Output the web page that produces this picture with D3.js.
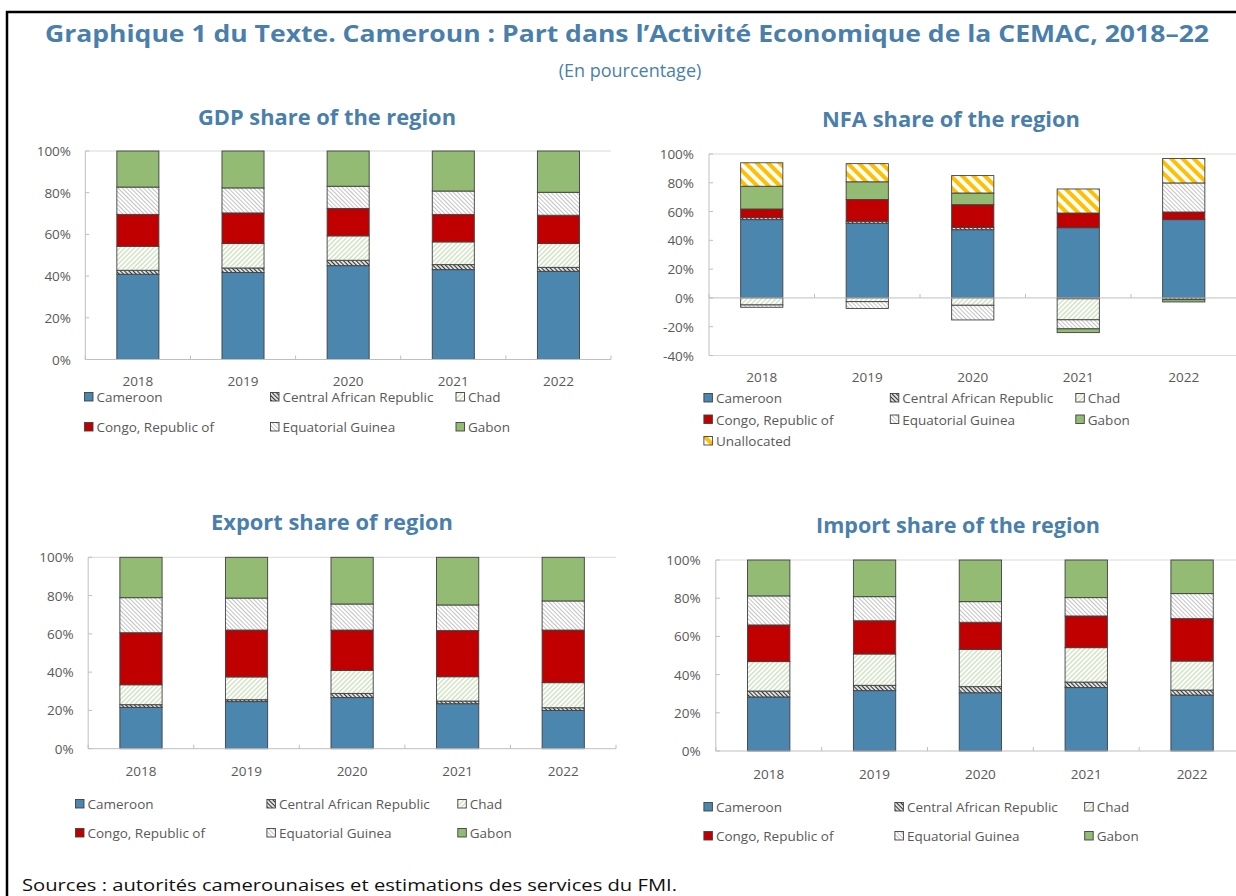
<!DOCTYPE html>
<html>
<head>
<meta charset="utf-8">
<script src="https://cdn.jsdelivr.net/npm/d3@7"></script>
<style>
  body { margin: 0; background: #fff; }
  svg { display: block; font-family: 'Open Sans', sans-serif; }
</style>
</head>
<body>
<div id="chart"></div>
<script>
'use strict';

var years = ['2018', '2019', '2020', '2021', '2022'];
var countries = ['Cameroon', 'Central African Republic', 'Chad', 'Congo, Republic of', 'Equatorial Guinea', 'Gabon'];
var nfaSeries = countries.concat(['Unallocated']);
var shareTicks = [0, 20, 40, 60, 80, 100];
var nfaTicks = [-40, -20, 0, 20, 40, 60, 80, 100];

// shares in percent, one row per series (same order as countries / nfaSeries)
var gdpShare = [
  [40.9, 41.7, 45.0, 43.1, 42.3],
  [1.9, 2.2, 2.6, 2.4, 1.9],
  [11.5, 11.7, 11.7, 10.9, 11.4],
  [15.3, 14.7, 13.1, 13.2, 13.6],
  [13.1, 12.0, 10.7, 11.2, 11.0],
  [17.3, 17.7, 16.9, 19.2, 19.8]
];
var nfaShare = [
  [54.4, 51.9, 47.4, 48.8, 54.4],
  [1.4, 1.4, 1.6, -0.6, -1.2],
  [-4.9, -2.6, -5.1, -14.6, 0],
  [6.0, 15.1, 15.8, 10.2, 5.3],
  [-1.6, -4.7, -10.2, -6.3, 20.2],
  [15.8, 12.3, 8.1, -2.6, -1.6],
  [16.3, 12.6, 12.1, 16.7, 17.0]
];
var exportShare = [
  [21.6, 24.6, 26.7, 23.5, 20.0],
  [1.4, 1.0, 2.2, 1.4, 1.4],
  [10.4, 11.9, 12.0, 12.7, 13.1],
  [27.2, 24.5, 21.1, 24.1, 27.5],
  [18.3, 16.7, 13.6, 13.4, 15.2],
  [21.1, 21.3, 24.4, 24.9, 22.8]
];
var importShare = [
  [28.3, 31.6, 30.5, 33.2, 29.3],
  [3.1, 2.8, 3.2, 2.9, 2.6],
  [15.4, 16.4, 19.5, 18.0, 15.2],
  [19.2, 17.4, 14.2, 16.6, 22.2],
  [15.2, 12.6, 10.8, 9.6, 13.1],
  [18.8, 19.2, 21.8, 19.7, 17.6]
];

var blue = '#4a7fac';
var axisGray = '#bfbfbf';
var textGray = '#595959';

var fills = {
  'Cameroon': '#4a86ae',
  'Central African Republic': 'url(#pat-car)',
  'Chad': 'url(#pat-chad)',
  'Congo, Republic of': '#c00000',
  'Equatorial Guinea': 'url(#pat-eqg)',
  'Gabon': '#93bb74',
  'Unallocated': 'url(#pat-unal)'
};

var svg = d3.select('#chart').append('svg')
  .attr('width', 1236)
  .attr('height', 896);

var defs = svg.append('defs');

function addPattern(id, color, size, lineWidth, angle) {
  var pat = defs.append('pattern')
    .attr('id', id)
    .attr('patternUnits', 'userSpaceOnUse')
    .attr('width', size)
    .attr('height', size)
    .attr('patternTransform', 'rotate(' + angle + ')');
  pat.append('rect')
    .attr('width', size)
    .attr('height', size)
    .attr('fill', '#fff');
  pat.append('line')
    .attr('x1', size / 2).attr('x2', size / 2)
    .attr('y1', 0).attr('y2', size)
    .attr('stroke', color)
    .attr('stroke-width', lineWidth);
}

addPattern('pat-car', '#333', 3, 1.3, -45);
addPattern('pat-chad', '#b3d19b', 3.4, 0.9, 45);
addPattern('pat-eqg', '#b4b4b4', 3, 0.8, -45);
addPattern('pat-unal', '#ffc000', 8, 4, -45);

// frame
svg.append('path')
  .attr('d', 'M7,896V12H1236')
  .attr('fill', 'none')
  .attr('stroke', '#000')
  .attr('stroke-width', 2.5);

svg.append('text')
  .attr('x', 627)
  .attr('y', 33)
  .attr('text-anchor', 'middle')
  .attr('dominant-baseline', 'central')
  .attr('textLength', 1164)
  .attr('lengthAdjust', 'spacingAndGlyphs')
  .style('font-size', '23.5px')
  .style('font-weight', 'bold')
  .style('fill', blue)
  .text('Graphique 1 du Texte. Cameroun : Part dans l\u2019Activit\u00e9 Economique de la CEMAC, 2018\u201322');

svg.append('text')
  .attr('x', 630)
  .attr('y', 70)
  .attr('text-anchor', 'middle')
  .attr('dominant-baseline', 'central')
  .style('font-size', '18px')
  .style('fill', blue)
  .text('(En pourcentage)');

svg.append('text')
  .attr('x', 22)
  .attr('y', 884)
  .attr('dominant-baseline', 'central')
  .attr('textLength', 655)
  .attr('lengthAdjust', 'spacingAndGlyphs')
  .style('font-size', '17px')
  .style('fill', '#111')
  .text('Sources : autorit\u00e9s camerounaises et estimations des services du FMI.');

var panels = [
  {title: 'GDP share of the region', titleX: 327, titleY: 117, titleLen: 258,
   series: countries, values: gdpShare, ticks: shareTicks,
   x0: 85.3, x1: 611, yTop: 151, yBottom: 359.5, labelX: 71, xLabelY: 381,
   legendX: [84, 270, 455.5], legendY: [397, 427]},
  {title: 'NFA share of the region', titleX: 951, titleY: 119, titleLen: 258,
   series: nfaSeries, values: nfaShare, ticks: nfaTicks,
   x0: 709, x1: 1236.5, yTop: 154, yBottom: 355.5, labelX: 694, xLabelY: 377,
   legendX: [703.4, 889.8, 1075.3], legendY: [398, 419.5, 441]},
  {title: 'Export share of region', titleX: 332, titleY: 522, titleLen: 242,
   series: countries, values: exportShare, ticks: shareTicks,
   x0: 88.2, x1: 616, yTop: 557.3, yBottom: 748.7, labelX: 73.6, xLabelY: 771,
   legendX: [75, 266.4, 457.3], legendY: [804, 833]},
  {title: 'Import share of the region', titleX: 958, titleY: 525, titleLen: 284,
   series: countries, values: importShare, ticks: shareTicks,
   x0: 715.8, x1: 1245, yTop: 560, yBottom: 751, labelX: 700.7, xLabelY: 774,
   legendX: [703.4, 894.4, 1084.2], legendY: [807, 836]}
];

panels.forEach(function(p) {
  var g = svg.append('g');

  var x = d3.scaleBand()
    .domain(years)
    .range([p.x0, p.x1])
    .paddingInner(0.6)
    .paddingOuter(0.3);

  var y = d3.scaleLinear()
    .domain(d3.extent(p.ticks))
    .range([p.yBottom, p.yTop]);

  var rows = years.map(function(yr, i) {
    var r = {year: yr};
    p.series.forEach(function(s, k) { r[s] = p.values[k][i]; });
    return r;
  });

  var stacked = d3.stack()
    .keys(p.series)
    .offset(d3.stackOffsetDiverging)(rows);

  g.append('text')
    .attr('x', p.titleX)
    .attr('y', p.titleY)
    .attr('text-anchor', 'middle')
    .attr('dominant-baseline', 'central')
    .attr('textLength', p.titleLen)
    .attr('lengthAdjust', 'spacingAndGlyphs')
    .style('font-size', '21px')
    .style('font-weight', 'bold')
    .style('fill', blue)
    .text(p.title);

  // plot frame
  var yMin = d3.min(p.ticks), yMax = d3.max(p.ticks);
  g.append('line')
    .attr('x1', p.x0).attr('x2', p.x1)
    .attr('y1', y(yMax)).attr('y2', y(yMax))
    .attr('stroke', '#d9d9d9');
  g.append('line')
    .attr('x1', p.x0).attr('x2', p.x0)
    .attr('y1', y(yMax)).attr('y2', y(yMin))
    .attr('stroke', axisGray);
  if (yMin < 0) {
    g.append('line')
      .attr('x1', p.x0).attr('x2', p.x1)
      .attr('y1', y(yMin)).attr('y2', y(yMin))
      .attr('stroke', '#d9d9d9');
  }

  g.selectAll('.ytick')
    .data(p.ticks)
    .enter()
    .append('line')
    .attr('x1', p.x0).attr('x2', p.x0 + 4)
    .attr('y1', function(d) { return y(d); })
    .attr('y2', function(d) { return y(d); })
    .attr('stroke', axisGray);

  g.selectAll('.ylabel')
    .data(p.ticks)
    .enter()
    .append('text')
    .attr('x', p.labelX)
    .attr('y', function(d) { return y(d); })
    .attr('text-anchor', 'end')
    .attr('dominant-baseline', 'central')
    .style('font-size', '13.5px')
    .style('fill', textGray)
    .text(function(d) { return d + '%'; });

  // bars
  stacked.forEach(function(layer) {
    g.selectAll('.bar-' + layer.index)
      .data(layer.filter(function(d) { return d[1] !== d[0]; }))
      .enter()
      .append('rect')
      .attr('x', function(d) { return x(d.data.year); })
      .attr('width', x.bandwidth())
      .attr('y', function(d) { return y(Math.max(d[0], d[1])); })
      .attr('height', function(d) { return Math.abs(y(d[0]) - y(d[1])); })
      .attr('fill', fills[layer.key])
      .attr('stroke', '#404040')
      .attr('stroke-width', 0.9);
  });

  // zero axis and category ticks
  g.append('line')
    .attr('x1', p.x0).attr('x2', p.x1)
    .attr('y1', y(0)).attr('y2', y(0))
    .attr('stroke', axisGray);

  var step = x.step();
  g.selectAll('.xtick')
    .data(d3.range(years.length + 1))
    .enter()
    .append('line')
    .attr('x1', function(i) { return p.x0 + i * step; })
    .attr('x2', function(i) { return p.x0 + i * step; })
    .attr('y1', y(0)).attr('y2', y(0) - 4)
    .attr('stroke', axisGray);

  g.selectAll('.xlabel')
    .data(years)
    .enter()
    .append('text')
    .attr('x', function(d) { return x(d) + x.bandwidth() / 2; })
    .attr('y', p.xLabelY)
    .attr('text-anchor', 'middle')
    .attr('dominant-baseline', 'central')
    .style('font-size', '13.5px')
    .style('fill', textGray)
    .text(function(d) { return d; });

  // legend
  var legend = g.selectAll('.legend')
    .data(p.series)
    .enter()
    .append('g')
    .attr('transform', function(d, k) {
      return 'translate(' + p.legendX[k % 3] + ',' + p.legendY[Math.floor(k / 3)] + ')';
    });

  legend.append('rect')
    .attr('x', 0.5)
    .attr('y', -4.5)
    .attr('width', 8.5)
    .attr('height', 8.5)
    .attr('fill', function(d) { return fills[d]; })
    .attr('stroke', '#404040')
    .attr('stroke-width', 0.9);

  legend.append('text')
    .attr('x', 12.5)
    .attr('y', 0)
    .attr('dominant-baseline', 'central')
    .style('font-size', '13.5px')
    .style('fill', textGray)
    .text(function(d) { return d; });
});
</script>
</body>
</html>
